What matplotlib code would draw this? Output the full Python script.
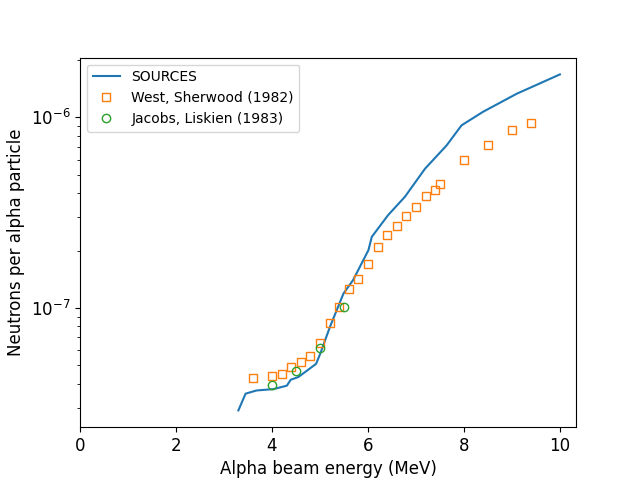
import numpy as np
import matplotlib
matplotlib.use("Agg")
import matplotlib.pyplot as plt

# SOURCES calculation
src_energy = [3.30, 3.45, 3.68, 4.03, 4.31, 4.39, 4.55, 4.92, 5.01, 5.21, 5.49,
              5.69, 6.01, 6.08, 6.42, 6.77, 7.19, 7.64, 7.95, 8.40, 9.10, 10.0]
src_yield = [2.90e-8, 3.55e-8, 3.69e-8, 3.75e-8, 3.91e-8, 4.20e-8, 4.34e-8,
             5.09e-8, 5.79e-8, 7.98e-8, 1.19e-7, 1.40e-7, 2.01e-7, 2.36e-7,
             3.07e-7, 3.83e-7, 5.38e-7, 7.13e-7, 9.08e-7, 1.07e-6, 1.33e-6, 1.68e-6]

# West, Sherwood (1982)
ws_energy = [3.6, 4.0, 4.2, 4.4, 4.6, 4.8, 5.0, 5.2, 5.4, 5.6, 5.8, 6.0,
             6.2, 6.4, 6.6, 6.8, 7.0, 7.2, 7.4, 7.5, 8.0, 8.5, 9.0, 9.4]
ws_yield = [4.29e-8, 4.41e-8, 4.50e-8, 4.89e-8, 5.20e-8, 5.61e-8, 6.58e-8,
            8.32e-8, 1.01e-7, 1.25e-7, 1.41e-7, 1.71e-7, 2.08e-7, 2.41e-7,
            2.69e-7, 3.03e-7, 3.37e-7, 3.85e-7, 4.18e-7, 4.45e-7, 6.00e-7,
            7.19e-7, 8.55e-7, 9.38e-7]

# Jacobs, Liskien (1983)
jl_energy = [4.0, 4.5, 5.0, 5.5]
jl_yield = [3.95e-8, 4.68e-8, 6.18e-8, 1.01e-7]

fig, ax = plt.subplots(figsize=(6.4, 4.8), dpi=100)
ax.plot(src_energy, src_yield, label='SOURCES')
ax.plot(ws_energy, ws_yield, 's', fillstyle='none', label='West, Sherwood (1982)')
ax.plot(jl_energy, jl_yield, 'o', fillstyle='none', label='Jacobs, Liskien (1983)')
ax.set_yscale('log')
ax.set_xlim(left=0)
ax.set_xlabel('Alpha beam energy (MeV)', fontsize=12)
ax.set_ylabel('Neutrons per alpha particle', fontsize=12)
ax.tick_params(labelsize=12)
ax.legend(loc='upper left')
fig.savefig('out.png')
